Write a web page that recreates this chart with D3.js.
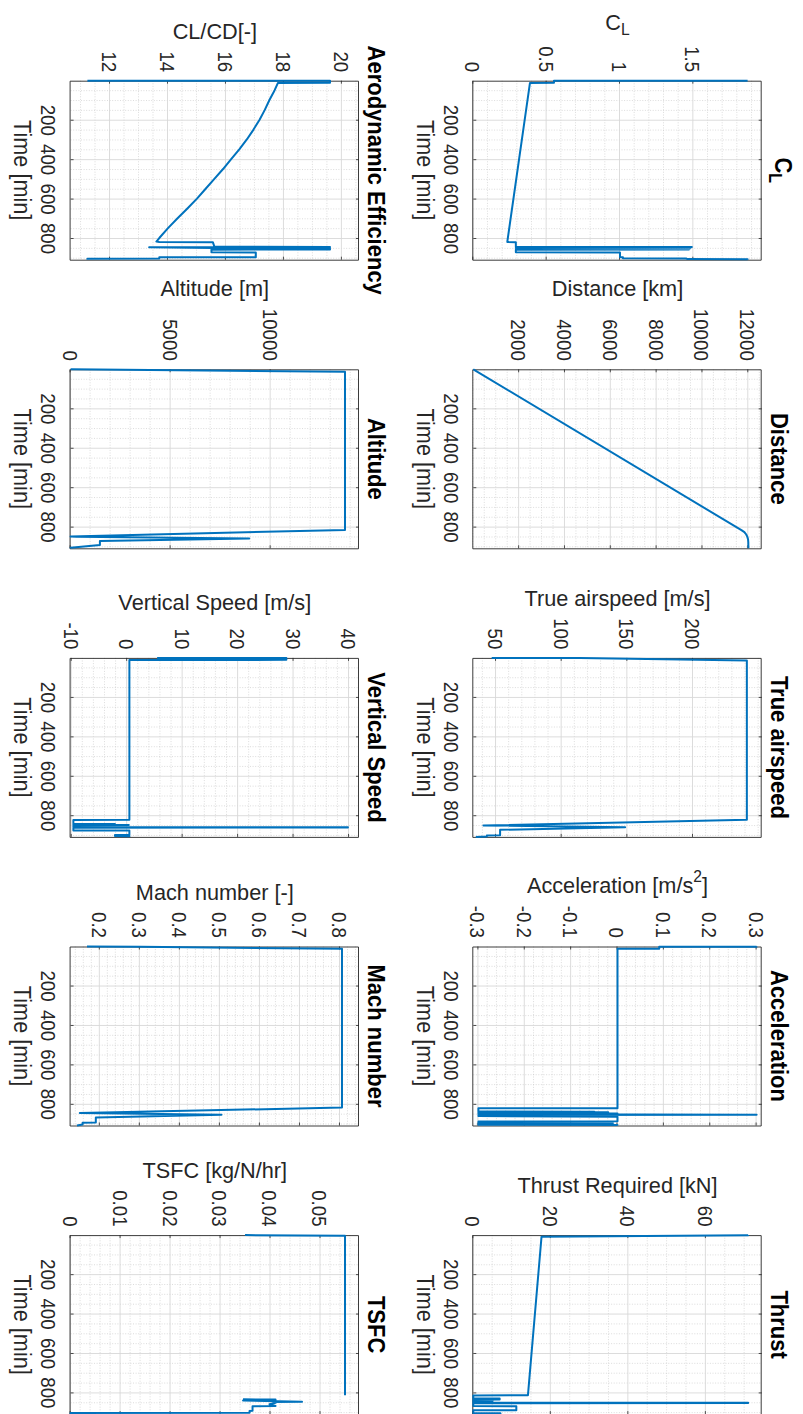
<!DOCTYPE html>
<html>
<head>
<meta charset="utf-8">
<script src="https://cdn.jsdelivr.net/npm/d3@7"></script>
<style>
  html, body { margin: 0; padding: 0; background: #fff; }
  svg { display: block; }
  text { font-family: "Liberation Sans", Arial, Helvetica, sans-serif; }
</style>
</head>
<body>
<svg id="fig" width="803" height="1414"></svg>
<script>
// ---------------- shared time axis (minutes) ----------------
const timeDomain = [2, 910];
const timeTicks = [200, 400, 600, 800];

// ---------------- lift coefficient ----------------
const clTime  = [2, 2.6, 12.5, 14, 818, 820, 822, 844, 845.5, 847, 851, 852, 853.5, 857, 858, 859, 872, 873, 897, 898, 903, 904, 907, 908, 910];
const clValue = [1.87, 0.55, 0.55, 0.386, 0.232, 0.232, 0.29, 0.29, 1.49, 0.30, 0.29, 1.48, 0.31, 0.30, 1.47, 0.29, 0.29, 1.0, 1.0, 1.02, 1.02, 1.45, 1.46, 1.87, 1.87];
const clTicks = [0, 0.5, 1, 1.5];

// ---------------- aerodynamic efficiency ----------------
const ldTime  = [2, 2.6, 12.5, 14, 50, 100, 150, 200, 250, 300, 350, 400, 450, 500, 550, 600, 650, 700, 750, 800, 818, 820, 822, 844, 845.5, 847, 851, 852, 853.5, 857, 858, 859, 872, 873, 897, 898, 904, 905, 910];
const ldValue = [11.22, 19.59, 19.59, 17.79, 17.68, 17.5, 17.34, 17.16, 16.95, 16.72, 16.46, 16.18, 15.9, 15.6, 15.3, 15.0, 14.67, 14.33, 14.0, 13.7, 13.6, 13.7, 15.55, 15.6, 19.59, 13.35, 15.6, 19.59, 15.5, 15.5, 19.59, 15.5, 15.5, 17.03, 17.03, 13.7, 13.7, 11.22, 11.22];
const ldTicks = [12, 14, 16, 18, 20];

// ---------------- distance ----------------
const distTime  = [2, 818, 828, 840, 852, 865, 878, 910];
const distValue = [0, 11700, 11830, 11910, 11960, 11990, 12000, 12005];
const distTicks = [2000, 4000, 6000, 8000, 10000, 12000];

// ---------------- altitude ----------------
const altTime  = [2, 14, 817, 850, 852, 860, 873, 893, 907, 910];
const altValue = [0, 13715, 13715, 0, 300, 8930, 1465, 1465, 0, 0];
const altTicks = [0, 5000, 10000];

// ---------------- true airspeed ----------------
const tasTime  = [2, 2.6, 15, 823, 852, 861, 874, 902, 903, 908, 910];
const tasValue = [46.7, 114, 241, 241, 40.4, 148.3, 53.1, 53.1, 43, 43, 34.6];
const tasTicks = [50, 100, 150, 200];

// ---------------- vertical speed ----------------
const vsTime  = [2, 3, 12, 13, 823, 824, 843, 844, 845, 849, 850, 851, 860, 861, 862, 863, 877, 878, 899, 900, 906, 907, 910];
const vsValue = [5.4, 28.7, 28.7, 0.4, 0.4, -9.7, -9.7, -2.2, -9.7, -9.7, 0.3, -9.7, -9.7, 39.8, 39.8, -9.7, -9.7, 0.4, 0.4, -2.2, -2.2, 0.4, 0.4];
const vsTicks = [-10, 0, 10, 20, 30, 40];

// ---------------- acceleration ----------------
const accTime  = [2, 3, 3.5, 13, 14, 822, 822.5, 839, 840, 841, 843, 844, 846, 847, 849, 850, 852, 853, 856, 857, 860, 862, 866, 872, 889, 890, 893, 895, 898, 900, 906, 908, 910];
const accValue = [0.3, 0.3, 0.09, 0.09, 0, 0, -0.3, -0.3, -0.05, -0.3, -0.02, -0.3, -0.1, -0.3, 0, -0.3, -0.05, -0.28, 0.3, -0.3, -0.1, -0.3, 0, 0, 0, -0.3, -0.02, -0.3, -0.01, -0.3, -0.3, 0, 0];
const accTicks = [-0.3, -0.2, -0.1, 0, 0.1, 0.2, 0.3];

// ---------------- Mach number ----------------
const machTime  = [2, 3, 14, 819, 847, 856, 869, 895, 896, 905, 910];
const machValue = [0.168, 0.3, 0.805, 0.805, 0.15, 0.504, 0.19, 0.19, 0.157, 0.157, 0.143];
const machTicks = [0.2, 0.3, 0.4, 0.5, 0.6, 0.7, 0.8];

// ---------------- thrust required ----------------
const thrTime  = [2, 3, 10, 814, 816, 830, 831, 836, 837, 841, 842, 843, 852, 853, 854, 855, 869, 870, 890, 891, 905, 906, 910];
const thrValue = [70.9, 70.9, 17.6, 14.1, 0, 0, 6.8, 6.8, 0, 0, 5, 0, 0, 70.9, 70.9, 0, 0, 11.1, 11.1, 0, 0, 7, 7];
const thrTicks = [0, 20, 40, 60];

// ---------------- TSFC (no value while engines idle) ----------------
const tsfcTime  = [2, 5, 814, 815, 835, 836, 840, 841, 847, 848, 853, 860, 869, 870, 893, 894, 903, 904, 910];
const tsfcValue = [0.0349, 0.0549, 0.0549, null, 0.0345, 0.041, 0.041, 0.0345, 0.0463, 0.0405, 0.041, 0.0398, 0.041, 0.0364, 0.0364, 0.0358, 0.0358, 0, 0];
const tsfcTicks = [0, 0.01, 0.02, 0.03, 0.04, 0.05];

// ---------------- panel definitions ----------------
const panels = [
  { col: 0, row: 0, title: [{t: "C"}, {t: "L", sub: true}], ylabel: [{t: "C"}, {t: "L", sub: true}],
    time: clTime, value: clValue, domain: [0, 1.966], ticks: clTicks, minor: 0.1 },
  { col: 0, row: 1, title: [{t: "Aerodynamic Efficiency"}], ylabel: [{t: "CL/CD[-]"}],
    time: ldTime, value: ldValue, domain: [10.64, 20.59], ticks: ldTicks, minor: 0.5 },
  { col: 1, row: 0, title: [{t: "Distance"}], ylabel: [{t: "Distance [km]"}],
    time: distTime, value: distValue, domain: [0, 12585], ticks: distTicks, minor: 500 },
  { col: 1, row: 1, title: [{t: "Altitude"}], ylabel: [{t: "Altitude [m]"}],
    time: altTime, value: altValue, domain: [0, 14415], ticks: altTicks, minor: 1000 },
  { col: 2, row: 0, title: [{t: "True airspeed"}], ylabel: [{t: "True airspeed [m/s]"}],
    time: tasTime, value: tasValue, domain: [32.7, 252.3], ticks: tasTicks, minor: 10 },
  { col: 2, row: 1, title: [{t: "Vertical Speed"}], ylabel: [{t: "Vertical Speed [m/s]"}],
    time: vsTime, value: vsValue, domain: [-10.2, 41.8], ticks: vsTicks, minor: 2 },
  { col: 3, row: 0, title: [{t: "Acceleration"}], ylabel: [{t: "Acceleration [m/s"}, {t: "2", sup: true}, {t: "]"}],
    time: accTime, value: accValue, domain: [-0.311, 0.311], ticks: accTicks, minor: 0.02 },
  { col: 3, row: 1, title: [{t: "Mach number"}], ylabel: [{t: "Mach number [-]"}],
    time: machTime, value: machValue, domain: [0.127, 0.8475], ticks: machTicks, minor: 0.02 },
  { col: 4, row: 0, title: [{t: "Thrust"}], ylabel: [{t: "Thrust Required [kN]"}],
    time: thrTime, value: thrValue, domain: [0, 74.4], ticks: thrTicks, minor: 5 },
  { col: 4, row: 1, title: [{t: "TSFC"}], ylabel: [{t: "TSFC [kg/N/hr]"}],
    time: tsfcTime, value: tsfcValue, domain: [0, 0.0577], ticks: tsfcTicks, minor: 0.002 }
];

// ---------------- layout (landscape figure, shown turned a quarter clockwise) ----------------
const FIG_H = 803;
const PW = 179, PH = 288.4;
const colLeft = c => 80.7 + c * 288.6;
const rowTop = [41.3, 444];

const INK = "#262626";
const LINE = "#0072BD";
const TICK_FS = 18.7, LABEL_FS = 21.7, TITLE_FS = 22;
const TALL = 1.12;   // glyph height factor for upright figure text

const svg = d3.select("#fig");
svg.append("rect").attr("width", 803).attr("height", 1414).attr("fill", "#fff");
const fig = svg.append("g").attr("transform", `translate(${FIG_H},0) rotate(90)`);

const fmt = v => String(+v.toPrecision(12));

function minorValues(domain, step, majors) {
  const lo = Math.ceil(domain[0] / step - 1e-9), hi = Math.floor(domain[1] / step + 1e-9);
  const out = [];
  for (let k = lo; k <= hi; k++) {
    const v = k * step;
    if (!majors.some(m => Math.abs(m - v) < step * 1e-6)) out.push(v);
  }
  return out;
}

function richText(sel, parts, fs) {
  parts.forEach(p => {
    const ts = sel.append("tspan").text(p.t);
    if (p.sub) ts.attr("font-size", fs * 0.72).attr("baseline-shift", "-0.35em");
    if (p.sup) ts.attr("font-size", fs * 0.72).attr("baseline-shift", "0.7em");
  });
}

panels.forEach(p => {
  const g = fig.append("g").attr("transform", `translate(${colLeft(p.col)},${rowTop[p.row]})`);
  const x = d3.scaleLinear().domain(timeDomain).range([0, PW]);
  const y = d3.scaleLinear().domain(p.domain).range([PH, 0]);

  // minor grid (dotted)
  const gm = g.append("g");
  gm.append("g").attr("transform", `translate(0,${PH})`)
    .call(d3.axisBottom(x).tickValues(minorValues(timeDomain, 50, timeTicks)).tickSize(-PH).tickFormat(""));
  gm.append("g")
    .call(d3.axisLeft(y).tickValues(minorValues(p.domain, p.minor, p.ticks)).tickSize(-PW).tickFormat(""));
  gm.selectAll(".domain").remove();
  gm.selectAll(".tick line").attr("stroke", "#c4c4c4").attr("stroke-width", 0.6)
    .attr("stroke-dasharray", "1,1.6");

  // major grid (solid)
  const gg = g.append("g");
  gg.append("g").attr("transform", `translate(0,${PH})`)
    .call(d3.axisBottom(x).tickValues(timeTicks).tickSize(-PH).tickFormat(""));
  gg.append("g")
    .call(d3.axisLeft(y).tickValues(p.ticks).tickSize(-PW).tickFormat(""));
  gg.selectAll(".domain").remove();
  gg.selectAll(".tick line").attr("stroke", "#d8d8d8").attr("stroke-width", 0.9);

  // axes with inward ticks on all four sides
  const axB = g.append("g").attr("transform", `translate(0,${PH})`)
    .call(d3.axisBottom(x).tickValues(timeTicks).tickSizeInner(-3).tickSizeOuter(0).tickFormat(fmt));
  const axT = g.append("g")
    .call(d3.axisTop(x).tickValues(timeTicks).tickSizeInner(-3).tickSizeOuter(0).tickFormat(""));
  const axL = g.append("g")
    .call(d3.axisLeft(y).tickValues(p.ticks).tickSizeInner(-3).tickSizeOuter(0).tickFormat(fmt));
  const axR = g.append("g").attr("transform", `translate(${PW},0)`)
    .call(d3.axisRight(y).tickValues(p.ticks).tickSizeInner(-3).tickSizeOuter(0).tickFormat(""));
  [axB, axT, axL, axR].forEach(a => {
    a.attr("font-family", null).attr("font-size", null);
    a.select(".domain").attr("stroke", INK).attr("stroke-width", 0.9);
    a.selectAll(".tick line").attr("stroke", INK).attr("stroke-width", 0.8);
    a.selectAll(".tick text").attr("fill", INK).style("font-size", TICK_FS + "px");
  });
  axB.selectAll(".tick text")
    .attr("y", null).attr("dy", null)
    .attr("transform", `translate(0,29.5) scale(1,${TALL})`);
  axL.selectAll(".tick text")
    .attr("x", null).attr("dy", "0.36em")
    .attr("transform", `translate(-8.5,0) scale(1,${TALL})`);

  // data trace
  const pts = d3.zip(p.time, p.value);
  const line = d3.line().defined(d => d[1] !== null).x(d => x(d[0])).y(d => y(d[1]));
  g.append("path").datum(pts)
    .attr("d", line)
    .attr("fill", "none")
    .attr("stroke", LINE)
    .attr("stroke-width", 2)
    .attr("stroke-linejoin", "round");

  // x label
  g.append("text")
    .attr("transform", `translate(${PW / 2},${PH + 56.5}) scale(1,${TALL})`)
    .attr("text-anchor", "middle").attr("fill", INK)
    .style("font-size", LABEL_FS + "px")
    .text("Time [min]");

  // y label, placed just outside the tick labels
  const tickLeft = axL.node().getBBox().x;
  const yl = g.append("text")
    .attr("text-anchor", "middle").attr("fill", INK)
    .style("font-size", LABEL_FS + "px");
  richText(yl, p.ylabel, LABEL_FS);
  const yb = yl.node().getBBox();
  const tx = tickLeft - 7.5 - (yb.y + yb.height);
  yl.attr("transform", `translate(${tx},${PH / 2}) rotate(-90)`);

  // title
  const tt = g.append("text")
    .attr("text-anchor", "middle").attr("fill", "#000")
    .attr("font-weight", "bold")
    .style("font-size", TITLE_FS + "px");
  richText(tt, p.title, TITLE_FS);
  const tb = tt.node().getBBox();
  const ty = -3.6 - TALL * (tb.y + tb.height);
  tt.attr("transform", `translate(${PW / 2},${ty}) scale(1,${TALL})`);
});
</script>
</body>
</html>
